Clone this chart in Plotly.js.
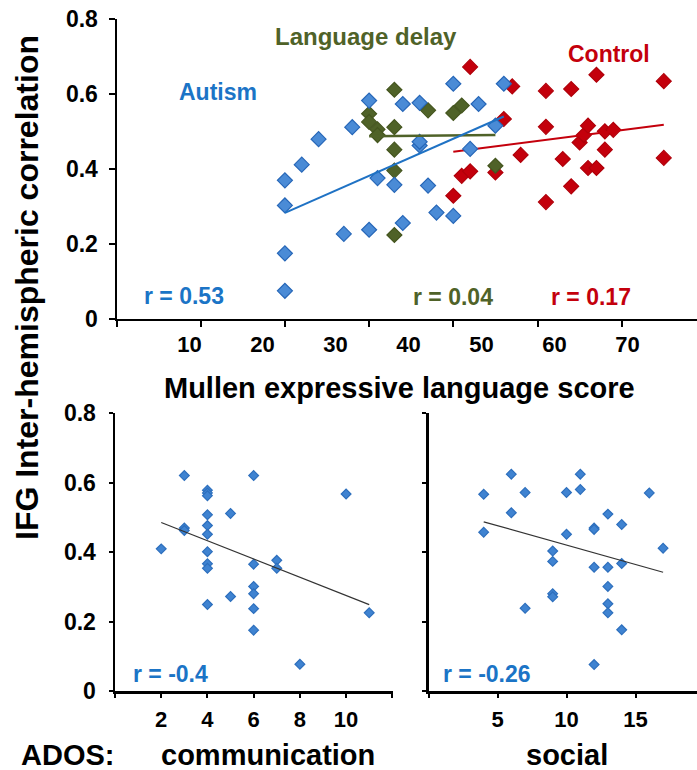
<!DOCTYPE html>
<html>
<head>
<meta charset="utf-8">
<script src="https://cdn.plot.ly/plotly-3.0.1.min.js"></script>
<style>html,body{margin:0;padding:0;background:#fff;}#chart{width:697px;height:770px;}</style>
</head>
<body>
<div id="chart"></div>
<script>
// ---------- DATA ----------
// Top panel: Mullen expressive language score vs IFG inter-hemispheric correlation
const autismMullen = [20,20,20,20,22,24,27,28,30,30,31,33,34,34,36,36,36,37,38,40,40,42,43,45,46];
const autismCorr   = [0.074,0.174,0.302,0.369,0.411,0.479,0.226,0.511,0.582,0.237,0.375,0.357,0.573,0.255,0.576,0.462,0.472,0.355,0.283,0.627,0.274,0.453,0.573,0.515,0.627];

const delayMullen = [33,33,33,33,33,30,30,31,31,37,40,41,45];
const delayCorr   = [0.611,0.511,0.451,0.395,0.223,0.547,0.525,0.505,0.490,0.556,0.549,0.569,0.408];

const controlMullen = [40,41,42,42,45,46,47,48,51,51,51,53,54,54,55,55.5,56,56,57,57,58,58,59,65,65];
const controlCorr   = [0.328,0.381,0.672,0.393,0.390,0.533,0.620,0.437,0.608,0.512,0.311,0.426,0.613,0.353,0.470,0.490,0.515,0.402,0.651,0.402,0.500,0.451,0.504,0.634,0.429];

// Bottom panels: ADOS scores (autism group)
const adosComm     = [2,3,3,3,4,4,4,4,4,4,4,4,4,4,5,5,6,6,6,6,6,6,7,7,8,10,11];
const adosCommCorr = [0.409,0.620,0.469,0.462,0.578,0.570,0.562,0.507,0.476,0.451,0.401,0.366,0.353,0.249,0.511,0.272,0.620,0.365,0.301,0.280,0.237,0.175,0.376,0.353,0.077,0.567,0.225];

const adosSocial     = [4,4,6,6,7,7,9,9,9,9,10,10,11,11,12,12,12,12,13,13,13,13,13,14,14,14,16,17];
const adosSocialCorr = [0.566,0.457,0.624,0.513,0.571,0.238,0.403,0.373,0.280,0.271,0.571,0.451,0.624,0.580,0.469,0.465,0.356,0.076,0.509,0.356,0.301,0.251,0.225,0.479,0.367,0.176,0.570,0.411];

// Tick labels
const yTickVals   = [0,0.2,0.4,0.6,0.8];
const yTickText   = ['0','0.2','0.4','0.6','0.8'];
const mullenTickMarks  = [0,10,20,30,40,50,60];
const mullenLabelVals  = [10,20,30,40,50,60,70];
const mullenLabelText  = ['10','20','30','40','50','60','70'];
const commTickVals = [0,2,4,6,8,10,12];
const commTickText = ['','2','4','6','8','10',''];
const socTickVals  = [0,5,10,15];
const socTickText  = ['','5','10','15'];

// r values
const rAutism = 'r = 0.53', rDelay = 'r = 0.04', rControl = 'r = 0.17';
const rComm = 'r = -0.4', rSocial = 'r = -0.26';

// ---------- HELPERS ----------
function fit(xs, ys){
  const n = xs.length;
  const mx = xs.reduce((a,b)=>a+b,0)/n, my = ys.reduce((a,b)=>a+b,0)/n;
  let sxy=0, sxx=0;
  for(let i=0;i<n;i++){ sxy += (xs[i]-mx)*(ys[i]-my); sxx += (xs[i]-mx)*(xs[i]-mx); }
  const b = sxy/sxx, a = my - b*mx;
  const x0 = Math.min(...xs), x1 = Math.max(...xs);
  return {x:[x0,x1], y:[a+b*x0, a+b*x1]};
}

const W = 697, H = 770;
const px = v => v/W, py = v => 1 - v/H;
const FONT = 'Liberation Sans, Arial, Helvetica, sans-serif';

const BLUE_TXT = '#1b74c6', BLUE_FILL = '#4a8bd6', BLUE_LINE = '#2767b8';
const GREEN = '#4f6228', RED = '#c4000c';

// ---------- TRACES ----------
const fA = fit(autismMullen, autismCorr);
const fD = fit(delayMullen, delayCorr);
const fC = fit(controlMullen, controlCorr);
const fComm = fit(adosComm, adosCommCorr);
const fSoc = fit(adosSocial, adosSocialCorr);

const dia = (fill, line, size) => ({symbol:'diamond', size:size, color:fill, line:{color:line, width:1.2}});

const traces = [
  {x:controlMullen, y:controlCorr, type:'scatter', mode:'markers', marker:dia(RED,'#b0000a',11.5), xaxis:'x', yaxis:'y', hoverinfo:'x+y'},
  {x:fC.x, y:fC.y, type:'scatter', mode:'lines', line:{color:RED, width:2}, xaxis:'x', yaxis:'y', hoverinfo:'skip'},
  {x:delayMullen, y:delayCorr, type:'scatter', mode:'markers', marker:dia(GREEN,'#45561f',11.5), xaxis:'x', yaxis:'y', hoverinfo:'x+y'},
  {x:autismMullen, y:autismCorr, type:'scatter', mode:'markers', marker:dia(BLUE_FILL,BLUE_LINE,11.5), xaxis:'x', yaxis:'y', hoverinfo:'x+y'},
  {x:fD.x, y:fD.y, type:'scatter', mode:'lines', line:{color:GREEN, width:2.5}, xaxis:'x', yaxis:'y', hoverinfo:'skip'},
  {x:fA.x, y:fA.y, type:'scatter', mode:'lines', line:{color:'#1f72c4', width:2}, xaxis:'x', yaxis:'y', hoverinfo:'skip'},
  // empty trace that only carries the (offset) tick-label axis of the top panel
  {x:mullenLabelVals, y:mullenLabelVals.map(()=>null), type:'scatter', mode:'markers', xaxis:'x2', yaxis:'y', hoverinfo:'skip'},

  {x:adosComm, y:adosCommCorr, type:'scatter', mode:'markers', marker:dia('#3f83d1','#2d6fbd',7.5), xaxis:'x3', yaxis:'y3', hoverinfo:'x+y'},
  {x:fComm.x, y:fComm.y, type:'scatter', mode:'lines', line:{color:'#333333', width:1.2}, xaxis:'x3', yaxis:'y3', hoverinfo:'skip'},
  {x:adosSocial, y:adosSocialCorr, type:'scatter', mode:'markers', marker:dia('#3f83d1','#2d6fbd',7.5), xaxis:'x4', yaxis:'y4', hoverinfo:'x+y'},
  {x:fSoc.x, y:fSoc.y, type:'scatter', mode:'lines', line:{color:'#333333', width:1.2}, xaxis:'x4', yaxis:'y4', hoverinfo:'skip'}
];

// ---------- LAYOUT ----------
const tickFont = (s) => ({family:FONT, size:s, color:'#000', weight:'bold'});
const baseAxis = {showgrid:false, zeroline:false, showline:true, linecolor:'#000', ticks:'outside', tickcolor:'#000', fixedrange:true};

const ann = (text, x, y, size, color, extra) => Object.assign({
  text:text, x:px(x), y:py(y), xref:'paper', yref:'paper', showarrow:false,
  xanchor:'center', yanchor:'middle', font:{family:FONT, size:size, color:color, weight:'bold'}
}, extra||{});

const layout = {
  width:W, height:H, margin:{l:0,r:0,t:0,b:0,pad:0},
  paper_bgcolor:'#fff', plot_bgcolor:'rgba(0,0,0,0)', showlegend:false,
  xaxis: Object.assign({}, baseAxis, {domain:[px(116.5),1], range:[0,(W-116.5)/8.42], anchor:'y',
          tickvals:mullenTickMarks, showticklabels:false, ticklen:6, tickwidth:2, linewidth:2}),
  xaxis2: {overlaying:'x', anchor:'y', side:'bottom', range:[0,(W-116.5)/7.3], showline:false, showgrid:false, zeroline:false,
          ticks:'', tickvals:mullenLabelVals, ticktext:mullenLabelText, tickfont:tickFont(22), ticklabelstandoff:10, fixedrange:true},
  yaxis: Object.assign({}, baseAxis, {domain:[py(318.5), py(19)], range:[0,0.8], anchor:'x',
          tickvals:yTickVals, ticktext:yTickText, tickfont:tickFont(23), ticklen:6, tickwidth:2, linewidth:2, ticklabelstandoff:6}),
  xaxis3: Object.assign({}, baseAxis, {domain:[px(115), px(393)], range:[0,12.03], anchor:'y3',
          tickvals:commTickVals, ticktext:commTickText, tickfont:tickFont(22), ticklen:4, tickwidth:2, linewidth:2.5, ticklabelstandoff:3}),
  yaxis3: Object.assign({}, baseAxis, {domain:[py(691), py(413)], range:[0,0.8], anchor:'x3',
          tickvals:yTickVals, ticktext:yTickText, tickfont:tickFont(23), ticklen:4, tickwidth:2, linewidth:2.5, ticklabelstandoff:8}),
  xaxis4: Object.assign({}, baseAxis, {domain:[px(428.5), 1], range:[0,(W-428.5)/13.8], anchor:'y4',
          tickvals:socTickVals, ticktext:socTickText, tickfont:tickFont(22), ticklen:4, tickwidth:2, linewidth:2.5, ticklabelstandoff:3}),
  yaxis4: Object.assign({}, baseAxis, {domain:[py(691), py(413)], range:[0,0.8], anchor:'x4',
          tickvals:yTickVals, showticklabels:false, ticklen:4, tickwidth:2, linewidth:2.5}),
  annotations: [
    ann('IFG Inter-hemispheric correlation', 27, 288, 32, '#000', {textangle:-90}),
    ann('Autism', 218, 92, 23, BLUE_TXT),
    ann('Language delay', 366, 37, 24, GREEN),
    ann('Control', 609, 54, 23, RED),
    ann(rAutism, 184, 296, 23, BLUE_TXT),
    ann(rDelay, 453, 297, 23, GREEN),
    ann(rControl, 591, 297, 23, RED),
    ann('Mullen expressive language score', 399, 388, 29, '#000'),
    ann(rComm, 170, 674, 23, BLUE_TXT),
    ann(rSocial, 487, 674, 23, BLUE_TXT),
    ann('ADOS:', 67, 755, 29, '#000'),
    ann('communication', 268, 755, 29, '#000'),
    ann('social', 567, 755, 29, '#000')
  ]
};

Plotly.newPlot('chart', traces, layout, {displayModeBar:false, staticPlot:true});
</script>
</body>
</html>
